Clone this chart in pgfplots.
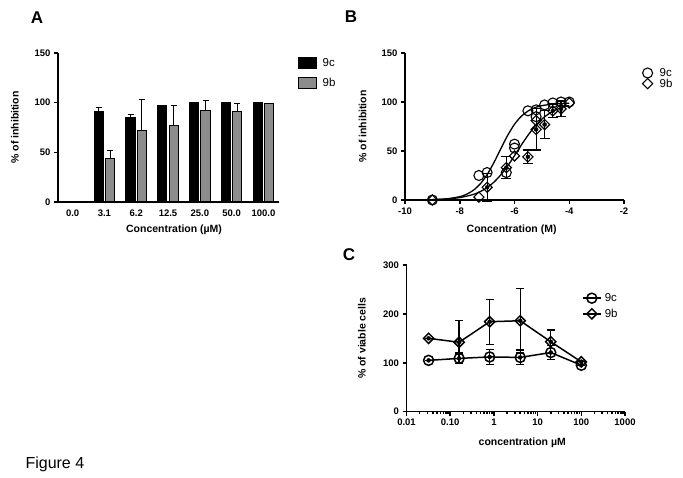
\documentclass[border=0pt]{standalone}
\usepackage{fontspec}
\setmainfont{Liberation Sans}
\usepackage{pgfplots}
\pgfplotsset{compat=1.18}
\usepackage{pgfplotstable}
\definecolor{bargray}{RGB}{140,140,140}

\pgfplotstableread{
x c ce b be
0 0 0 0 0
1 91 4 44 8
2 85 3 72 31
3 97 0 77 20
4 100 0 92 10
5 100 0 91 8
6 100 0 99 0
}\dataA

\pgfplotstableread{
x y
-9 0
-7.3 25
-7.0 28
-6.3 28
-6.0 53
-6.0 57
-5.51 91
-5.21 92
-5.21 85
-4.9 97
-4.6 99
-4.3 100
-4.0 100
}\dataBc

\pgfplotstableread{
x y
-9 0
-7.3 3
-7.0 13
-6.3 33
-6.0 45
-5.51 44
-5.21 72
-5.21 81
-4.9 77
-4.6 91
-4.3 93
-4.0 99
}\dataBb

\pgfplotstableread{
x y e
-7.0 13 14
-6.3 33 11
-5.51 44 7
-5.21 72 21
-4.9 77 14
-4.6 91 7
-4.3 93 8
}\dataBbErr

\pgfplotstableread{
x y e
0.032 105 0
0.16 109 11
0.8 112 15
4 111 15
20 121 14
100 95 0
}\dataCc

\pgfplotstableread{
x y e
0.032 150 0
0.16 142 44
0.8 184 46
4 186 66
20 143 24
100 102 0
}\dataCb

\pgfplotsset{
  gp/.style={
    scale only axis,
    axis lines=left,
    axis line style={-, line width=1.5pt},
    tick align=outside,
    major tick length=4pt,
    minor tick length=2.5pt,
    tick style={black, line width=1.5pt},
    ticklabel style={font=\bfseries\fontsize{9.5}{11}\selectfont},
    /pgf/number format/assume math mode=true,
    label style={font=\bfseries\fontsize{10.5}{12}\selectfont},
    legend style={draw=none, fill=none, font=\fontsize{11.5}{13}\selectfont},
    legend cell align=left,
    clip=false,
  },
  dmark/.style={mark=square, mark size=3.6pt, mark options={rotate=45, fill opacity=0}},
  cmark/.style={mark=o, mark size=5pt, mark options={fill opacity=0}},
}

\begin{document}
\begin{tikzpicture}
\path[use as bounding box] (0,0) rectangle (683pt,477pt);

% ---------------- Panel A ----------------
\begin{axis}[gp, at={(58pt,275pt)}, anchor=south west, width=221pt, height=149pt,
  xmin=-0.46, xmax=6.49, ymin=0, ymax=150, ytick={0,50,100,150},
  xtick={0,...,6}, xticklabels={0.0,3.1,6.2,12.5,25.0,50.0,100.0},
  xtick style={draw=none},
  xlabel={Concentration (µM)}, ylabel={\% of inhibition},
  xlabel style={at={(axis description cs:0.525,-0.188)}, anchor=center},
  ylabel style={at={(axis description cs:-0.195,0.5)}, anchor=center},
  legend style={at={(axis description cs:1.072,0.99)}, anchor=north west, row sep=6pt},
  legend image code/.code={\draw[#1] (0pt,-5.5pt) rectangle (18pt,5.5pt); \path[draw=none,fill=none] (0pt,0pt) (22pt,0pt);},
]
\addplot[ybar, bar width=9.3pt, bar shift=0pt, fill=black, draw=black, line width=1pt,
  error bars/.cd, y dir=plus, y explicit,
  error bar style={line width=1pt, black},
  error mark options={rotate=90, mark size=3pt, line width=1pt, black}]
  table[x expr=\thisrow{x}-0.179, y=c, y error=ce] {\dataA};
\addlegendentry{9c}
\addplot[ybar, bar width=9.3pt, bar shift=0pt, fill=bargray, draw=black, line width=1pt,
  error bars/.cd, y dir=plus, y explicit,
  error bar style={line width=1pt, black},
  error mark options={rotate=90, mark size=3pt, line width=1pt, black}]
  table[x expr=\thisrow{x}+0.179, y=b, y error=be] {\dataA};
\addlegendentry{9b}
\end{axis}

% ---------------- Panel B ----------------
\begin{axis}[gp, at={(405pt,277pt)}, anchor=south west, width=219pt, height=147pt,
  xmin=-10, xmax=-2, ymin=0, ymax=150, ytick={0,50,100,150},
  xtick={-10,-8,-6,-4,-2}, xticklabels={-10,-8,-6,-4,-2},
  xlabel={Concentration (M)}, ylabel={\% of inhibition},
  xlabel style={at={(axis description cs:0.487,-0.204)}, anchor=center},
  ylabel style={at={(axis description cs:-0.194,0.5)}, anchor=center},
  legend style={at={(axis description cs:1.07,0.925)}, anchor=north west, row sep=-3pt},
  legend image code/.code={\draw[#1] plot coordinates {(5pt,0pt)}; \path[draw=none,fill=none] (0pt,0pt) (15pt,0pt);},
]
\addplot[only marks, cmark, line width=1.1pt, black] table[x=x,y=y] {\dataBc};
\addlegendentry{9c}
\addplot[only marks, dmark, line width=1.1pt, black] table[x=x,y=y] {\dataBb};
\addlegendentry{9b}
\addplot[only marks, mark=none, black, forget plot,
  error bars/.cd, y dir=both, y explicit,
  error bar style={line width=1.1pt, black},
  error mark options={rotate=90, mark size=5pt, line width=1.1pt, black}]
  table[x=x, y=y, y error=e] {\dataBbErr};
\addplot[smooth, no marks, line width=1.3pt, black, forget plot] coordinates {
(-9,0.35) (-8.5,1.10) (-8,3.39) (-7.75,5.88) (-7.5,9.99) (-7.25,16.47) (-7,25.93)
(-6.75,38.30) (-6.5,52.35) (-6.25,65.96) (-6,77.24) (-5.75,85.46) (-5.5,90.90)
(-5.25,94.28) (-5,96.29) (-4.5,98.13) (-4,98.72)};
\addplot[smooth, no marks, line width=1.3pt, black, forget plot] coordinates {
(-9,0.44) (-8.5,1.05) (-8,2.46) (-7.5,5.70) (-7.25,8.54) (-7,12.63) (-6.75,18.25)
(-6.5,25.66) (-6.25,34.81) (-6,45.23) (-5.75,56.09) (-5.5,66.36) (-5.25,75.31)
(-5,82.52) (-4.75,87.94) (-4.5,91.85) (-4.25,94.58) (-4,96.42)};
\end{axis}

% ---------------- Panel C ----------------
\begin{axis}[gp, xmode=log, at={(406.5pt,65.3pt)}, anchor=south west, width=218.5pt, height=146.7pt,
  xmin=0.01, xmax=1000, ymin=0, ymax=300, ytick={0,100,200,300},
  xtick={0.01,0.1,1,10,100,1000}, xticklabels={0.01,0.10,1,10,100,1000},
  xlabel={concentration µM}, ylabel={\% of viable cells},
  xlabel style={at={(axis description cs:0.53,-0.213)}, anchor=center},
  ylabel style={at={(axis description cs:-0.204,0.5)}, anchor=center},
  legend style={at={(axis description cs:0.789,0.835)}, anchor=north west, row sep=2pt},
  legend image code/.code={\draw[mark repeat=2,mark phase=2,#1] plot coordinates {(0pt,0pt) (9pt,0pt) (18pt,0pt)}; \path[draw=none,fill=none] (0pt,0pt) (20pt,0pt);},
]
\addplot[cmark, line width=1.5pt, black] table[x=x,y=y] {\dataCc};
\addlegendentry{9c}
\addplot[dmark, line width=1.5pt, black] table[x=x,y=y] {\dataCb};
\addlegendentry{9b}
\addplot[only marks, mark=none, black, forget plot,
  error bars/.cd, y dir=both, y explicit,
  error bar style={line width=1.3pt, black},
  error mark options={rotate=90, mark size=4pt, line width=1.3pt, black}]
  table[x=x, y=y, y error=e] {\dataCc};
\addplot[only marks, mark=none, black, forget plot,
  error bars/.cd, y dir=both, y explicit,
  error bar style={line width=1.3pt, black},
  error mark options={rotate=90, mark size=4pt, line width=1.3pt, black}]
  table[x=x, y=y, y error=e] {\dataCb};
\end{axis}

\node[font=\bfseries\fontsize{17}{20}\selectfont] at (37pt,459.5pt) {A};
\node[font=\bfseries\fontsize{17}{20}\selectfont] at (351pt,460pt) {B};
\node[font=\bfseries\fontsize{17}{20}\selectfont] at (349pt,222pt) {C};
\node[anchor=base west, font=\fontsize{16}{19}\selectfont] at (22pt,9pt) {Figure 4};
\end{tikzpicture}
\end{document}
